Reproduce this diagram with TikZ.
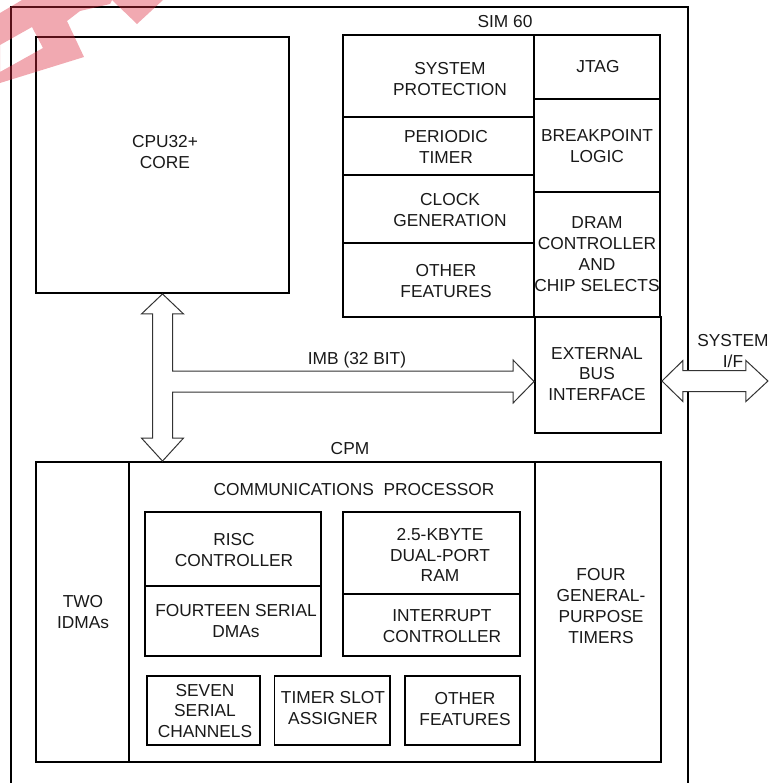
\documentclass[tikz,border=0pt]{standalone}
\usepackage{fontspec}
\setmainfont{Liberation Sans}
\usetikzlibrary{fit,calc}
\definecolor{stampred}{RGB}{220,40,60}
\begin{document}
\begin{tikzpicture}[x=0.75pt,y=-0.75pt,
  outerbox/.style={draw=black, line width=2.1pt, inner sep=0pt},
  bigbox/.style={draw=black, line width=1.4pt, inner sep=0pt},
  smallbox/.style={draw=black, line width=1.1pt, inner sep=0pt},
  txt/.style={align=center, font=\fontsize{13}{15.6}\selectfont, inner sep=0pt, text=black!90},
  bus/.style={draw=black!80, line width=0.75pt, fill=white, line join=miter},
  stamp/.style={fill=stampred, opacity=0.4}]
\useasboundingbox (0,0) rectangle (771,783);
\clip (0,0) rectangle (771,783);
% outer chip
\node[outerbox, fit={(11,7) (688,810)}] (chip) {};
% CPU core
\node[bigbox, fit={(36,37) (289,293)}] (cpu) {};
\node[txt] (tcpu) at (165,152) {CPU32+\\CORE};
% SIM 60
\node[txt] (tsim) at (505,22) {SIM 60};
\node[bigbox, fit={(343,35) (534,117)}] (sp) {};
\node[bigbox, fit={(343,117) (534,175)}] (pt) {};
\node[bigbox, fit={(343,175) (534,243)}] (cg) {};
\node[bigbox, fit={(343,243) (534,317)}] (of) {};
\node[bigbox, fit={(534,35) (660,99)}] (jtag) {};
\node[bigbox, fit={(534,99) (660,192)}] (bp) {};
\node[bigbox, fit={(534,192) (660,317)}] (dram) {};
\node[bigbox, fit={(535,317) (661,433)}] (ebi) {};
\node[txt] (tsp) at (450,79) {SYSTEM\\PROTECTION};
\node[txt] (tpt) at (446,147) {PERIODIC\\TIMER};
\node[txt] (tcg) at (450,210) {CLOCK\\GENERATION};
\node[txt] (tof) at (446,281) {OTHER\\FEATURES};
\node[txt] (tjtag) at (598,67) {JTAG};
\node[txt] (tbp) at (597,146) {BREAKPOINT\\LOGIC};
\node[txt] (tdram) at (597,254) {DRAM\\CONTROLLER\\AND\\CHIP SELECTS};
\node[txt] (tebi) at (597,374) {EXTERNAL\\BUS\\INTERFACE};
% CPM
\node[txt] (tcpm) at (350,449) {CPM};
\node[bigbox, fit={(36,462) (661,762)}] (cpm) {};
\node[bigbox, fit={(36,462) (129,762)}] (idma) {};
\node[bigbox, fit={(535,462) (661,762)}] (gpt) {};
\node[txt] (tidma) at (83,612) {TWO\\IDMAs};
\node[txt] (tgpt) at (601,606) {FOUR\\GENERAL-\\PURPOSE\\TIMERS};
\node[txt] (tcp) at (354,490) {COMMUNICATIONS\ \ PROCESSOR};
\node[smallbox, fit={(145,512) (321,586)}] (risc) {};
\node[smallbox, fit={(145,586) (321,656)}] (sdma) {};
\node[smallbox, fit={(343,512) (520,594)}] (ram) {};
\node[smallbox, fit={(343,594) (520,656)}] (intc) {};
\node[smallbox, fit={(147,676) (260,745)}] (scc) {};
\node[smallbox, fit={(274.5,676) (390,745)}] (tsa) {};
\node[smallbox, fit={(405,676) (520,745)}] (ofc) {};
\node[txt] (trisc) at (234,550) {RISC\\CONTROLLER};
\node[txt] (tsdma) at (236,621) {FOURTEEN SERIAL\\DMAs};
\node[txt] (tram) at (440,555) {2.5-KBYTE\\DUAL-PORT\\RAM};
\node[txt] (tintc) at (442,626) {INTERRUPT\\CONTROLLER};
\node[txt] (tscc) at (205,711) {SEVEN\\SERIAL\\CHANNELS};
\node[txt] (ttsa) at (333,708) {TIMER SLOT\\ASSIGNER};
\node[txt] (tofc) at (465,709) {OTHER\\FEATURES};
% IMB bus
\coordinate (up) at (cpu.south);
\coordinate (dn) at (cpu.south |- cpm.north);
\coordinate (rt) at ($(ebi.west)+(0,6.5)$);
\coordinate (mid) at (up |- rt);
\draw[bus] (up) -- ++(21,20) -- ++(-11,0) -- ($(mid)+(10,-10.5)$)
  -- ($(rt)+(-21,-10.5)$) -- ($(rt)+(-21,-21.5)$) -- (rt)
  -- ($(rt)+(-21,21.5)$) -- ($(rt)+(-21,10.5)$) -- ($(mid)+(10,10.5)$)
  -- ($(dn)+(10,-23)$) -- ($(dn)+(21,-23)$) -- (dn) -- ($(dn)+(-21,-23)$)
  -- ($(dn)+(-10,-23)$) -- ($(up)+(-10,20)$) -- ($(up)+(-21,20)$) -- cycle;
\node[txt] (timb) at (357,360) {IMB (32 BIT)};
% system interface
\coordinate (sl) at ($(ebi.east)+(0,6)$);
\draw[bus] (sl) -- ++(21,-20.5) -- ++(0,10) -- ++(63,0) -- ++(0,-10) -- ++(22,20.5)
  -- ++(-22,20.5) -- ++(0,-10) -- ++(-63,0) -- ++(0,10) -- cycle;
\node[txt] (tsys) at (733,351) {SYSTEM\\I/F};
% red stamp remnant
\fill[stamp, even odd rule] (0,13) -- (22,0) -- (112,0) -- (110,4) -- (80,11) -- (67,21)
  -- (84,57) -- (0,83) -- cycle
  (0,45) -- (32,27) -- (43,48) -- (0,72) -- cycle;
\fill[stamp] (112,0) -- (163,0) -- (137,24) -- cycle;
\end{tikzpicture}
\end{document}
